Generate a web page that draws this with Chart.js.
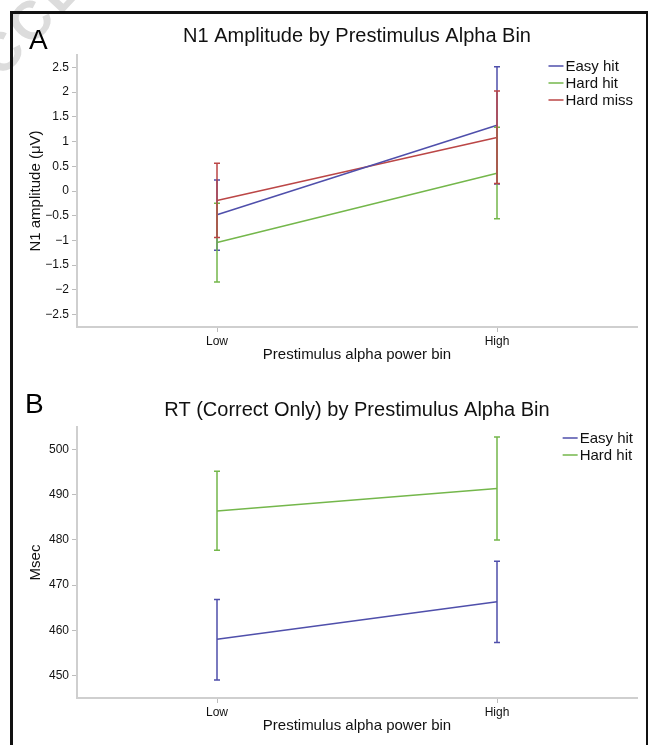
<!DOCTYPE html>
<html>
<head>
<meta charset="utf-8">
<script src="https://cdn.jsdelivr.net/npm/chart.js@4/dist/chart.umd.min.js"></script>
<style>
html,body{margin:0;padding:0;background:#fff;}
body{width:650px;height:745px;position:relative;overflow:hidden;font-family:"Liberation Sans",Arial,Helvetica,sans-serif;}
#frame{position:absolute;left:10px;top:11px;width:638px;height:760px;border-left:3px solid #111;border-top:3px solid #111;border-right:2px solid #111;box-sizing:border-box;z-index:3;pointer-events:none;}
.panel{position:absolute;font-size:28px;line-height:1;color:#000;z-index:2;}
#wrapA{position:absolute;left:0;top:0;width:650px;height:370px;z-index:1;}
#wrapB{position:absolute;left:0;top:371px;width:650px;height:374px;z-index:1;}
#wmclip{position:absolute;left:0;top:0;width:120px;height:118px;overflow:hidden;z-index:0;}
#wm{position:absolute;left:-22px;top:62px;font-size:54px;font-weight:bold;line-height:1;color:#dcdcdc;transform-origin:0 100%;transform:rotate(-47deg);white-space:nowrap;letter-spacing:4px;}
canvas{display:block;}
</style>
</head>
<body>
<div id="wmclip"><div id="wm">ACCE</div></div>
<div id="wrapA"><canvas id="chartA" width="650" height="370"></canvas></div>
<div id="wrapB"><canvas id="chartB" width="650" height="374"></canvas></div>
<div class="panel" style="left:29px;top:26px;">A</div>
<div class="panel" style="left:25px;top:390px;">B</div>
<div id="frame"></div>
<script>
// ---------- data ----------
const binLabels = ['Low', 'High'];

// Panel A: N1 amplitude (µV)
const n1Labels = ['Easy hit', 'Hard hit', 'Hard miss'];
const n1EasyMean = [-0.48, 1.33];
const n1EasyLo   = [-1.20, 0.14];
const n1EasyHi   = [0.22, 2.51];
const n1HardMean = [-1.04, 0.36];
const n1HardLo   = [-1.84, -0.56];
const n1HardHi   = [-0.25, 1.29];
const n1MissMean = [-0.19, 1.08];
const n1MissLo   = [-0.94, 0.15];
const n1MissHi   = [0.56, 2.02];
const n1Ticks = [-2.5, -2, -1.5, -1, -0.5, 0, 0.5, 1, 1.5, 2, 2.5];

// Panel B: RT (msec)
const rtLabels = ['Easy hit', 'Hard hit'];
const rtEasyMean = [458.0, 466.3];
const rtEasyLo   = [449.0, 457.3];
const rtEasyHi   = [466.8, 475.3];
const rtHardMean = [486.4, 491.4];
const rtHardLo   = [477.7, 480.0];
const rtHardHi   = [495.2, 502.8];
const rtTicks = [450, 460, 470, 480, 490, 500];

// ---------- styles ----------
const FONT = '"Liberation Sans", Arial, Helvetica, sans-serif';
const COL_EASY = '#4f4fab';
const COL_HARD = '#74b74b';
const COL_MISS = '#bb4646';
const AXIS_COL = '#cfcfcf';
const TICK_COL = '#bdbdbd';

Chart.defaults.font.family = FONT;
Chart.defaults.color = '#111';

function fmtTick(v) {
  return v < 0 ? '\u2212' + String(Math.abs(v)) : String(v);
}

const errorBarPlugin = {
  id: 'errorBars',
  afterDatasetsDraw(chart) {
    const ctx = chart.ctx, xs = chart.scales.x, ys = chart.scales.y;
    ctx.save();
    chart.data.datasets.forEach(ds => {
      ctx.strokeStyle = ds.borderColor;
      ctx.lineWidth = 1.5;
      ds.errLo.forEach((lo, j) => {
        const px = xs.getPixelForValue(j);
        const pLo = ys.getPixelForValue(lo);
        const pHi = ys.getPixelForValue(ds.errHi[j]);
        ctx.beginPath();
        ctx.moveTo(px, pHi); ctx.lineTo(px, pLo);
        ctx.moveTo(px - 3, pHi); ctx.lineTo(px + 3, pHi);
        ctx.moveTo(px - 3, pLo); ctx.lineTo(px + 3, pLo);
        ctx.stroke();
      });
    });
    ctx.restore();
  }
};

const insetLegendPlugin = {
  id: 'insetLegend',
  afterDraw(chart, args, opts) {
    const ctx = chart.ctx, area = chart.chartArea;
    ctx.save();
    ctx.font = '15px ' + FONT;
    const labels = chart.data.datasets.map(d => d.label);
    const maxW = Math.max(...labels.map(l => ctx.measureText(l).width));
    const x0 = area.right - opts.rightInset - (opts.lineLen + opts.gap + maxW);
    chart.data.datasets.forEach((ds, i) => {
      const yy = area.top + opts.firstRow + i * opts.rowStep;
      ctx.strokeStyle = ds.borderColor;
      ctx.lineWidth = 1.5;
      ctx.beginPath();
      ctx.moveTo(x0, yy); ctx.lineTo(x0 + opts.lineLen, yy);
      ctx.stroke();
      ctx.fillStyle = '#111';
      ctx.textBaseline = 'middle';
      ctx.textAlign = 'left';
      ctx.fillText(ds.label, x0 + opts.lineLen + opts.gap, yy + 1);
    });
    ctx.restore();
  }
};

function mkDataset(label, color, mean, lo, hi) {
  return {
    label: label, data: mean, errLo: lo, errHi: hi,
    borderColor: color, backgroundColor: color,
    borderWidth: 1.5, pointRadius: 0, pointHoverRadius: 0, tension: 0, fill: false
  };
}

function mkChart(canvasId, cfg) {
  return new Chart(document.getElementById(canvasId), {
    type: 'line',
    data: { labels: binLabels, datasets: cfg.datasets },
    plugins: [errorBarPlugin, insetLegendPlugin],
    options: {
      responsive: false,
      animation: false,
      events: [],
      layout: { padding: { left: 0, right: 13, top: 0, bottom: cfg.padBottom } },
      plugins: {
        legend: { display: false },
        tooltip: { enabled: false },
        title: {
          display: true, text: cfg.title, fullSize: false,
          font: { size: 20, weight: 'normal', family: FONT }, color: '#111',
          padding: { top: cfg.titleTop, bottom: cfg.titleBottom }
        },
        insetLegend: { rightInset: 4, lineLen: 15, gap: 2, firstRow: 11, rowStep: 17 }
      },
      scales: {
        x: {
          type: 'category', offset: true,
          grid: { display: true, drawOnChartArea: false, drawTicks: true, tickLength: 5, color: TICK_COL, offset: false },
          border: { display: true, color: AXIS_COL, width: 2 },
          ticks: { font: { size: 12 }, color: '#111', padding: 2, maxRotation: 0 },
          title: { display: true, text: 'Prestimulus alpha power bin', font: { size: 15 }, color: '#111', padding: { top: 0, bottom: 6 } },
          afterFit: s => { s.height = 43; }
        },
        y: {
          min: cfg.yMin, max: cfg.yMax,
          afterBuildTicks: s => { s.ticks = cfg.ticks.map(v => ({ value: v })); },
          grid: { display: true, drawOnChartArea: false, drawTicks: true, tickLength: 5, color: TICK_COL },
          border: { display: true, color: AXIS_COL, width: 2 },
          ticks: { font: { size: 12 }, color: '#111', padding: 3, callback: v => fmtTick(v) },
          title: { display: true, text: cfg.yTitle, font: { size: 15 }, color: '#111', padding: { top: 27, bottom: 0 } },
          afterFit: s => { s.width = 77; }
        }
      }
    }
  });
}

mkChart('chartA', {
  title: 'N1 Amplitude by Prestimulus Alpha Bin',
  yTitle: 'N1 amplitude (\u03BCV)',
  yMin: -2.75, yMax: 2.75, ticks: n1Ticks,
  titleTop: 24, titleBottom: 7, padBottom: 0,
  datasets: [
    mkDataset(n1Labels[0], COL_EASY, n1EasyMean, n1EasyLo, n1EasyHi),
    mkDataset(n1Labels[1], COL_HARD, n1HardMean, n1HardLo, n1HardHi),
    mkDataset(n1Labels[2], COL_MISS, n1MissMean, n1MissLo, n1MissHi)
  ]
});

mkChart('chartB', {
  title: 'RT (Correct Only) by Prestimulus Alpha Bin',
  yTitle: 'Msec',
  yMin: 445, yMax: 505, ticks: rtTicks,
  titleTop: 27, titleBottom: 5, padBottom: 4,
  datasets: [
    mkDataset(rtLabels[0], COL_EASY, rtEasyMean, rtEasyLo, rtEasyHi),
    mkDataset(rtLabels[1], COL_HARD, rtHardMean, rtHardLo, rtHardHi)
  ]
});
</script>
</body>
</html>
